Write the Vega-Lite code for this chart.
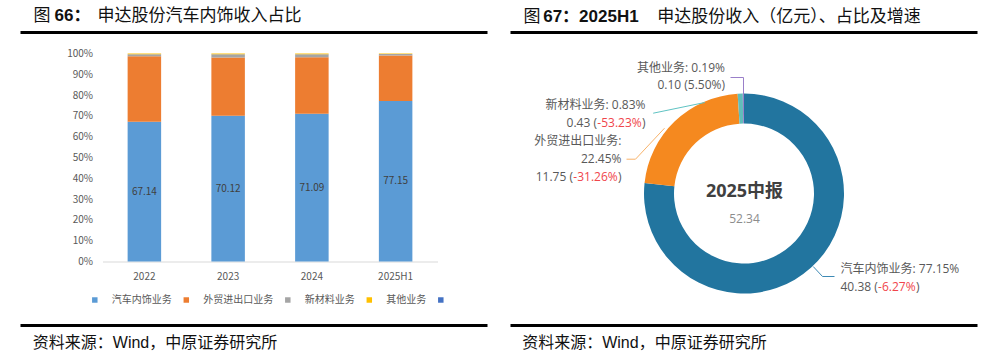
{
  "$schema": "https://vega.github.io/schema/vega-lite/v6.json",
  "background": "white",
  "padding": {"left": 18.5, "top": 6.5, "right": 0, "bottom": 0},
  "spacing": 19,
  "config": {"view": {"stroke": null}},
  "resolve": {"scale": {"color": "independent"}, "legend": {"color": "independent"}},
  "hconcat": [
    {
      "width": 335,
      "height": 208,
      "resolve": {"scale": {"x": "independent", "y": "independent"}},
      "layer": [
        {
          "data": {"values": [
            {"year": "2022", "biz": "汽车内饰业务", "share": 67.14},
            {"year": "2022", "biz": "外贸进出口业务", "share": 31.5},
            {"year": "2022", "biz": "新材料业务", "share": 1.0},
            {"year": "2022", "biz": "其他业务", "share": 0.36},
            {"year": "2023", "biz": "汽车内饰业务", "share": 70.12},
            {"year": "2023", "biz": "外贸进出口业务", "share": 28.0},
            {"year": "2023", "biz": "新材料业务", "share": 1.5},
            {"year": "2023", "biz": "其他业务", "share": 0.38},
            {"year": "2024", "biz": "汽车内饰业务", "share": 71.09},
            {"year": "2024", "biz": "外贸进出口业务", "share": 27.1},
            {"year": "2024", "biz": "新材料业务", "share": 1.4},
            {"year": "2024", "biz": "其他业务", "share": 0.41},
            {"year": "2025H1", "biz": "汽车内饰业务", "share": 77.15},
            {"year": "2025H1", "biz": "外贸进出口业务", "share": 21.83},
            {"year": "2025H1", "biz": "新材料业务", "share": 0.83},
            {"year": "2025H1", "biz": "其他业务", "share": 0.19}
          ]},
          "transform": [
            {"calculate": "indexof(['汽车内饰业务','外贸进出口业务','新材料业务','其他业务'], datum.biz)", "as": "k"}
          ],
          "layer": [
            {
              "mark": {"type": "bar"},
              "encoding": {
                "x": {"field": "year", "type": "nominal", "sort": null,
                  "scale": {"paddingInner": 0.6, "paddingOuter": 0.3},
                  "axis": {"title": null, "labelAngle": 0, "domainColor": "#D9D9D9", "domainWidth": 1, "ticks": false, "tickSize": 0, "labelPadding": 10, "labelFont": "Noto Sans CJK SC", "labelFontSize": 10, "labelColor": "#595959"}},
                "y": {"field": "share", "type": "quantitative", "stack": "zero",
                  "scale": {"domain": [0, 100], "nice": false, "zero": false},
                  "axis": {"title": null, "values": [0, 10, 20, 30, 40, 50, 60, 70, 80, 90, 100], "tickCount": 11, "labelExpr": "datum.value + '%'", "labelOverlap": false, "labelFlush": false, "domain": false, "ticks": false, "tickSize": 0, "grid": false, "labelPadding": 10, "labelFont": "Noto Sans CJK SC", "labelFontSize": 10, "labelColor": "#595959"}},
                "color": {"field": "biz", "type": "nominal",
                  "scale": {"domain": ["汽车内饰业务", "外贸进出口业务", "新材料业务", "其他业务", " "], "range": ["#5B9BD5", "#ED7D31", "#A5A5A5", "#FFC000", "#4472C4"]},
                  "legend": {"orient": "none", "legendX": -12.7, "legendY": 241.5, "direction": "horizontal", "columns": 5, "title": null, "symbolType": "square", "symbolSize": 30, "symbolStrokeWidth": 0, "labelFont": "Noto Sans CJK SC", "labelFontSize": 10, "labelColor": "#595959", "labelOffset": 12, "columnPadding": 9.5, "padding": 0}},
                "order": {"field": "k", "type": "quantitative", "sort": "ascending"}
              }
            },
            {
              "transform": [
                {"filter": "datum.biz == '汽车内饰业务'"},
                {"calculate": "datum.share / 2", "as": "mid"}
              ],
              "mark": {"type": "text", "font": "Noto Sans CJK SC", "fontSize": 10, "color": "#404040", "baseline": "middle"},
              "encoding": {
                "x": {"field": "year", "type": "nominal", "sort": null,
                  "axis": {"title": null, "labelAngle": 0, "domainColor": "#D9D9D9", "domainWidth": 1, "ticks": false, "tickSize": 0, "labelPadding": 10, "labelFont": "Noto Sans CJK SC", "labelFontSize": 10, "labelColor": "#595959"}},
                "y": {"field": "mid", "type": "quantitative", "scale": {"domain": [0, 100], "nice": false, "zero": false},
                  "axis": {"title": null, "values": [0, 10, 20, 30, 40, 50, 60, 70, 80, 90, 100], "tickCount": 11, "labelExpr": "datum.value + '%'", "labelOverlap": false, "labelFlush": false, "domain": false, "ticks": false, "tickSize": 0, "grid": false, "labelPadding": 10, "labelFont": "Noto Sans CJK SC", "labelFontSize": 10, "labelColor": "#595959"}},
                "text": {"field": "share", "type": "quantitative", "format": ".2f"}
              }
            }
          ]
        },
        {
          "data": {"values": [{}]},
          "mark": {"type": "rule", "color": "#000000", "strokeWidth": 3},
          "encoding": {
            "x": {"datum": -0.24478, "type": "quantitative", "scale": {"domain": [0, 1], "nice": false, "zero": false}, "axis": null},
            "x2": {"datum": 1.14925},
            "y": {"datum": 110.1, "type": "quantitative", "scale": {"domain": [0, 100], "nice": false, "zero": false}, "axis": null}
          }
        },
        {
          "data": {"values": [{}]},
          "mark": {"type": "rule", "color": "#000000", "strokeWidth": 3},
          "encoding": {
            "x": {"datum": -0.24478, "type": "quantitative", "scale": {"domain": [0, 1], "nice": false, "zero": false}, "axis": null},
            "x2": {"datum": 1.14925},
            "y": {"datum": -30.77, "type": "quantitative", "scale": {"domain": [0, 100], "nice": false, "zero": false}, "axis": null}
          }
        },
        {
          "data": {"values": [{}]},
          "mark": {"type": "text", "align": "left", "baseline": "middle", "font": "Noto Sans CJK SC", "fontSize": 17, "color": "#111111"},
          "encoding": {
            "x": {"datum": -0.20597, "type": "quantitative", "scale": {"domain": [0, 1], "nice": false, "zero": false}, "axis": null},
            "y": {"datum": 117.79, "type": "quantitative", "scale": {"domain": [0, 100], "nice": false, "zero": false}, "axis": null},
            "text": {"value": "图"}
          }
        },
        {
          "data": {"values": [{}]},
          "mark": {"type": "text", "align": "left", "baseline": "middle", "font": "Liberation Sans, Noto Sans CJK SC", "fontWeight": "bold", "fontSize": 17, "color": "#111111"},
          "encoding": {
            "x": {"datum": -0.14328, "type": "quantitative", "scale": {"domain": [0, 1], "nice": false, "zero": false}, "axis": null},
            "y": {"datum": 117.79, "type": "quantitative", "scale": {"domain": [0, 100], "nice": false, "zero": false}, "axis": null},
            "text": {"value": "66："}
          }
        },
        {
          "data": {"values": [{}]},
          "mark": {"type": "text", "align": "left", "baseline": "middle", "font": "Noto Sans CJK SC", "fontSize": 17, "color": "#111111"},
          "encoding": {
            "x": {"datum": -0.01493, "type": "quantitative", "scale": {"domain": [0, 1], "nice": false, "zero": false}, "axis": null},
            "y": {"datum": 117.79, "type": "quantitative", "scale": {"domain": [0, 100], "nice": false, "zero": false}, "axis": null},
            "text": {"value": "申达股份汽车内饰收入占比"}
          }
        },
        {
          "data": {"values": [{}]},
          "mark": {"type": "text", "align": "left", "baseline": "middle", "font": "Liberation Sans, Noto Sans CJK SC", "fontSize": 16, "color": "#111111"},
          "encoding": {
            "x": {"datum": -0.20806, "type": "quantitative", "scale": {"domain": [0, 1], "nice": false, "zero": false}, "axis": null},
            "y": {"datum": -39.18, "type": "quantitative", "scale": {"domain": [0, 100], "nice": false, "zero": false}, "axis": null},
            "text": {"value": "资料来源：Wind，中原证券研究所"}
          }
        }
      ]
    },
    {
      "width": 467,
      "height": 272,
      "data": {"values": [
        {"biz": "汽车内饰业务", "share": 77.15, "rev": 40.38, "growth": -6.27},
        {"biz": "外贸进出口业务", "share": 22.45, "rev": 11.75, "growth": -31.26},
        {"biz": "新材料业务", "share": 0.83, "rev": 0.43, "growth": -53.23},
        {"biz": "其他业务", "share": 0.19, "rev": 0.10, "growth": 5.50}
      ]},
      "transform": [
        {"calculate": "indexof(['汽车内饰业务','外贸进出口业务','新材料业务','其他业务'], datum.biz)", "as": "k"},
        {"calculate": "format(datum.share, '.2f') + '%'", "as": "pct"},
        {"calculate": "datum.biz + ': ' + datum.pct", "as": "l1"},
        {"calculate": "datum.biz + ':'", "as": "name"},
        {"calculate": "(datum.growth < 0 ? '-' : '') + format(abs(datum.growth), '.2f') + '%'", "as": "g"},
        {"calculate": "format(datum.rev, '.2f') + ' ('", "as": "pre"},
        {"calculate": "format(datum.rev, '.2f') + ' (' + datum.g + ')'", "as": "l2"}
      ],
      "layer": [
        {
          "mark": {"type": "arc", "outerRadius": 100, "innerRadius": 70},
          "encoding": {
            "x": {"datum": 0, "type": "quantitative", "scale": {"domain": [-2.335, 2.335], "nice": false, "zero": false}, "axis": null},
            "y": {"datum": 0, "type": "quantitative", "scale": {"domain": [-1.32, 1.4], "nice": false, "zero": false}, "axis": null},
            "theta": {"field": "share", "type": "quantitative", "stack": true},
            "color": {"field": "biz", "type": "nominal", "scale": {"domain": ["汽车内饰业务", "外贸进出口业务", "新材料业务", "其他业务"], "range": ["#22759F", "#F5891F", "#62BDBA", "#9A7FC9"]}, "legend": null},
            "order": {"field": "k", "type": "quantitative", "sort": "ascending"}
          }
        },
        {
          "data": {"values": [{}]},
          "mark": {"type": "rule", "color": "#000000", "strokeWidth": 3},
          "encoding": {"y": {"datum": 1.61, "type": "quantitative", "scale": {"domain": [-1.32, 1.4], "nice": false, "zero": false}, "axis": null}}
        },
        {
          "data": {"values": [{}]},
          "mark": {"type": "rule", "color": "#000000", "strokeWidth": 3},
          "encoding": {"y": {"datum": -1.32, "type": "quantitative", "scale": {"domain": [-1.32, 1.4], "nice": false, "zero": false}, "axis": null}}
        },
        {
          "data": {"values": [{}]},
          "mark": {"type": "rule", "color": "#9A7FC9", "strokeWidth": 1},
          "encoding": {
            "x": {"datum": -0.135, "type": "quantitative", "scale": {"domain": [-2.335, 2.335], "nice": false, "zero": false}, "axis": null},
            "x2": {"datum": -0.005},
            "y": {"datum": 1.16, "type": "quantitative", "scale": {"domain": [-1.32, 1.4], "nice": false, "zero": false}, "axis": null},
            "y2": {"datum": 1.16}
          }
        },
        {
          "data": {"values": [{}]},
          "mark": {"type": "rule", "color": "#9A7FC9", "strokeWidth": 1},
          "encoding": {
            "x": {"datum": -0.005, "type": "quantitative", "scale": {"domain": [-2.335, 2.335], "nice": false, "zero": false}, "axis": null},
            "x2": {"datum": -0.005},
            "y": {"datum": 1.16, "type": "quantitative", "scale": {"domain": [-1.32, 1.4], "nice": false, "zero": false}, "axis": null},
            "y2": {"datum": 0.79}
          }
        },
        {
          "data": {"values": [{}]},
          "mark": {"type": "rule", "color": "#5FC3C3", "strokeWidth": 1},
          "encoding": {
            "x": {"datum": -0.908, "type": "quantitative", "scale": {"domain": [-2.335, 2.335], "nice": false, "zero": false}, "axis": null},
            "x2": {"datum": -0.392},
            "y": {"datum": 0.803, "type": "quantitative", "scale": {"domain": [-1.32, 1.4], "nice": false, "zero": false}, "axis": null},
            "y2": {"datum": 0.91}
          }
        },
        {
          "data": {"values": [{}]},
          "mark": {"type": "rule", "color": "#F8B36B", "strokeWidth": 1},
          "encoding": {
            "x": {"datum": -1.175, "type": "quantitative", "scale": {"domain": [-2.335, 2.335], "nice": false, "zero": false}, "axis": null},
            "x2": {"datum": -1.085},
            "y": {"datum": 0.343, "type": "quantitative", "scale": {"domain": [-1.32, 1.4], "nice": false, "zero": false}, "axis": null},
            "y2": {"datum": 0.343}
          }
        },
        {
          "data": {"values": [{}]},
          "mark": {"type": "rule", "color": "#F8B36B", "strokeWidth": 1},
          "encoding": {
            "x": {"datum": -1.085, "type": "quantitative", "scale": {"domain": [-2.335, 2.335], "nice": false, "zero": false}, "axis": null},
            "x2": {"datum": -0.795},
            "y": {"datum": 0.343, "type": "quantitative", "scale": {"domain": [-1.32, 1.4], "nice": false, "zero": false}, "axis": null},
            "y2": {"datum": 0.653}
          }
        },
        {
          "data": {"values": [{}]},
          "mark": {"type": "rule", "color": "#3E8AB5", "strokeWidth": 1},
          "encoding": {
            "x": {"datum": 0.905, "type": "quantitative", "scale": {"domain": [-2.335, 2.335], "nice": false, "zero": false}, "axis": null},
            "x2": {"datum": 0.785},
            "y": {"datum": -0.83, "type": "quantitative", "scale": {"domain": [-1.32, 1.4], "nice": false, "zero": false}, "axis": null},
            "y2": {"datum": -0.83}
          }
        },
        {
          "data": {"values": [{}]},
          "mark": {"type": "rule", "color": "#3E8AB5", "strokeWidth": 1},
          "encoding": {
            "x": {"datum": 0.785, "type": "quantitative", "scale": {"domain": [-2.335, 2.335], "nice": false, "zero": false}, "axis": null},
            "x2": {"datum": 0.692},
            "y": {"datum": -0.83, "type": "quantitative", "scale": {"domain": [-1.32, 1.4], "nice": false, "zero": false}, "axis": null},
            "y2": {"datum": -0.73}
          }
        },
        {
          "transform": [{"filter": "datum.biz == '其他业务'"}],
          "mark": {"type": "text", "align": "right", "baseline": "middle", "font": "Open Sans, Noto Sans CJK SC", "fontSize": 12, "color": "#595959"},
          "encoding": {
            "x": {"datum": -0.19, "type": "quantitative", "scale": {"domain": [-2.335, 2.335], "nice": false, "zero": false}, "axis": null},
            "y": {"datum": 1.253, "type": "quantitative", "scale": {"domain": [-1.32, 1.4], "nice": false, "zero": false}, "axis": null},
            "text": {"field": "l1", "type": "nominal"}
          }
        },
        {
          "transform": [{"filter": "datum.biz == '其他业务'"}],
          "mark": {"type": "text", "align": "right", "baseline": "middle", "font": "Open Sans, Noto Sans CJK SC", "fontSize": 12, "color": "#595959"},
          "encoding": {
            "x": {"datum": -0.19, "type": "quantitative", "scale": {"domain": [-2.335, 2.335], "nice": false, "zero": false}, "axis": null},
            "y": {"datum": 1.087, "type": "quantitative", "scale": {"domain": [-1.32, 1.4], "nice": false, "zero": false}, "axis": null},
            "text": {"field": "l2", "type": "nominal"}
          }
        },
        {
          "transform": [{"filter": "datum.biz == '新材料业务'"}],
          "mark": {"type": "text", "align": "right", "baseline": "middle", "font": "Open Sans, Noto Sans CJK SC", "fontSize": 12, "color": "#595959"},
          "encoding": {
            "x": {"datum": -0.985, "type": "quantitative", "scale": {"domain": [-2.335, 2.335], "nice": false, "zero": false}, "axis": null},
            "y": {"datum": 0.887, "type": "quantitative", "scale": {"domain": [-1.32, 1.4], "nice": false, "zero": false}, "axis": null},
            "text": {"field": "l1", "type": "nominal"}
          }
        },
        {
          "transform": [{"filter": "datum.biz == '新材料业务'"}],
          "mark": {"type": "text", "align": "right", "baseline": "middle", "dx": -48.5, "font": "Open Sans, Noto Sans CJK SC", "fontSize": 12, "color": "#595959"},
          "encoding": {
            "x": {"datum": -0.985, "type": "quantitative", "scale": {"domain": [-2.335, 2.335], "nice": false, "zero": false}, "axis": null},
            "y": {"datum": 0.71, "type": "quantitative", "scale": {"domain": [-1.32, 1.4], "nice": false, "zero": false}, "axis": null},
            "text": {"field": "pre", "type": "nominal"}
          }
        },
        {
          "transform": [{"filter": "datum.biz == '新材料业务'"}],
          "mark": {"type": "text", "align": "right", "baseline": "middle", "dx": -3.8, "font": "Open Sans, Noto Sans CJK SC", "fontSize": 12, "color": "#F0454B"},
          "encoding": {
            "x": {"datum": -0.985, "type": "quantitative", "scale": {"domain": [-2.335, 2.335], "nice": false, "zero": false}, "axis": null},
            "y": {"datum": 0.71, "type": "quantitative", "scale": {"domain": [-1.32, 1.4], "nice": false, "zero": false}, "axis": null},
            "text": {"field": "g", "type": "nominal"}
          }
        },
        {
          "transform": [{"filter": "datum.biz == '新材料业务'"}],
          "mark": {"type": "text", "align": "right", "baseline": "middle", "font": "Open Sans, Noto Sans CJK SC", "fontSize": 12, "color": "#595959"},
          "encoding": {
            "x": {"datum": -0.985, "type": "quantitative", "scale": {"domain": [-2.335, 2.335], "nice": false, "zero": false}, "axis": null},
            "y": {"datum": 0.71, "type": "quantitative", "scale": {"domain": [-1.32, 1.4], "nice": false, "zero": false}, "axis": null},
            "text": {"value": ")"}
          }
        },
        {
          "transform": [{"filter": "datum.biz == '外贸进出口业务'"}],
          "mark": {"type": "text", "align": "right", "baseline": "middle", "font": "Open Sans, Noto Sans CJK SC", "fontSize": 12, "color": "#595959"},
          "encoding": {
            "x": {"datum": -1.225, "type": "quantitative", "scale": {"domain": [-2.335, 2.335], "nice": false, "zero": false}, "axis": null},
            "y": {"datum": 0.53, "type": "quantitative", "scale": {"domain": [-1.32, 1.4], "nice": false, "zero": false}, "axis": null},
            "text": {"field": "name", "type": "nominal"}
          }
        },
        {
          "transform": [{"filter": "datum.biz == '外贸进出口业务'"}],
          "mark": {"type": "text", "align": "right", "baseline": "middle", "font": "Open Sans, Noto Sans CJK SC", "fontSize": 12, "color": "#595959"},
          "encoding": {
            "x": {"datum": -1.225, "type": "quantitative", "scale": {"domain": [-2.335, 2.335], "nice": false, "zero": false}, "axis": null},
            "y": {"datum": 0.35, "type": "quantitative", "scale": {"domain": [-1.32, 1.4], "nice": false, "zero": false}, "axis": null},
            "text": {"field": "pct", "type": "nominal"}
          }
        },
        {
          "transform": [{"filter": "datum.biz == '外贸进出口业务'"}],
          "mark": {"type": "text", "align": "right", "baseline": "middle", "dx": -48.5, "font": "Open Sans, Noto Sans CJK SC", "fontSize": 12, "color": "#595959"},
          "encoding": {
            "x": {"datum": -1.225, "type": "quantitative", "scale": {"domain": [-2.335, 2.335], "nice": false, "zero": false}, "axis": null},
            "y": {"datum": 0.17, "type": "quantitative", "scale": {"domain": [-1.32, 1.4], "nice": false, "zero": false}, "axis": null},
            "text": {"field": "pre", "type": "nominal"}
          }
        },
        {
          "transform": [{"filter": "datum.biz == '外贸进出口业务'"}],
          "mark": {"type": "text", "align": "right", "baseline": "middle", "dx": -3.8, "font": "Open Sans, Noto Sans CJK SC", "fontSize": 12, "color": "#F0454B"},
          "encoding": {
            "x": {"datum": -1.225, "type": "quantitative", "scale": {"domain": [-2.335, 2.335], "nice": false, "zero": false}, "axis": null},
            "y": {"datum": 0.17, "type": "quantitative", "scale": {"domain": [-1.32, 1.4], "nice": false, "zero": false}, "axis": null},
            "text": {"field": "g", "type": "nominal"}
          }
        },
        {
          "transform": [{"filter": "datum.biz == '外贸进出口业务'"}],
          "mark": {"type": "text", "align": "right", "baseline": "middle", "font": "Open Sans, Noto Sans CJK SC", "fontSize": 12, "color": "#595959"},
          "encoding": {
            "x": {"datum": -1.225, "type": "quantitative", "scale": {"domain": [-2.335, 2.335], "nice": false, "zero": false}, "axis": null},
            "y": {"datum": 0.17, "type": "quantitative", "scale": {"domain": [-1.32, 1.4], "nice": false, "zero": false}, "axis": null},
            "text": {"value": ")"}
          }
        },
        {
          "transform": [{"filter": "datum.biz == '汽车内饰业务'"}],
          "mark": {"type": "text", "align": "left", "baseline": "middle", "font": "Open Sans, Noto Sans CJK SC", "fontSize": 12, "color": "#595959"},
          "encoding": {
            "x": {"datum": 0.965, "type": "quantitative", "scale": {"domain": [-2.335, 2.335], "nice": false, "zero": false}, "axis": null},
            "y": {"datum": -0.75, "type": "quantitative", "scale": {"domain": [-1.32, 1.4], "nice": false, "zero": false}, "axis": null},
            "text": {"field": "l1", "type": "nominal"}
          }
        },
        {
          "transform": [{"filter": "datum.biz == '汽车内饰业务'"}],
          "mark": {"type": "text", "align": "left", "baseline": "middle", "font": "Open Sans, Noto Sans CJK SC", "fontSize": 12, "color": "#595959"},
          "encoding": {
            "x": {"datum": 0.965, "type": "quantitative", "scale": {"domain": [-2.335, 2.335], "nice": false, "zero": false}, "axis": null},
            "y": {"datum": -0.93, "type": "quantitative", "scale": {"domain": [-1.32, 1.4], "nice": false, "zero": false}, "axis": null},
            "text": {"field": "pre", "type": "nominal"}
          }
        },
        {
          "transform": [{"filter": "datum.biz == '汽车内饰业务'"}],
          "mark": {"type": "text", "align": "left", "baseline": "middle", "dx": 37.6, "font": "Open Sans, Noto Sans CJK SC", "fontSize": 12, "color": "#F0454B"},
          "encoding": {
            "x": {"datum": 0.965, "type": "quantitative", "scale": {"domain": [-2.335, 2.335], "nice": false, "zero": false}, "axis": null},
            "y": {"datum": -0.93, "type": "quantitative", "scale": {"domain": [-1.32, 1.4], "nice": false, "zero": false}, "axis": null},
            "text": {"field": "g", "type": "nominal"}
          }
        },
        {
          "transform": [{"filter": "datum.biz == '汽车内饰业务'"}],
          "mark": {"type": "text", "align": "left", "baseline": "middle", "dx": 75.5, "font": "Open Sans, Noto Sans CJK SC", "fontSize": 12, "color": "#595959"},
          "encoding": {
            "x": {"datum": 0.965, "type": "quantitative", "scale": {"domain": [-2.335, 2.335], "nice": false, "zero": false}, "axis": null},
            "y": {"datum": -0.93, "type": "quantitative", "scale": {"domain": [-1.32, 1.4], "nice": false, "zero": false}, "axis": null},
            "text": {"value": ")"}
          }
        },
        {
          "data": {"values": [{}]},
          "mark": {"type": "text", "align": "center", "baseline": "middle", "font": "Open Sans, Noto Sans CJK SC", "fontWeight": "bold", "fontSize": 18, "color": "#404040"},
          "encoding": {
            "x": {"datum": 0.005, "type": "quantitative", "scale": {"domain": [-2.335, 2.335], "nice": false, "zero": false}, "axis": null},
            "y": {"datum": 0.02, "type": "quantitative", "scale": {"domain": [-1.32, 1.4], "nice": false, "zero": false}, "axis": null},
            "text": {"value": "2025中报"}
          }
        },
        {
          "data": {"values": [{}]},
          "mark": {"type": "text", "align": "center", "baseline": "middle", "font": "Open Sans, Noto Sans CJK SC", "fontSize": 12, "color": "#8C8C8C"},
          "encoding": {
            "x": {"datum": 0.005, "type": "quantitative", "scale": {"domain": [-2.335, 2.335], "nice": false, "zero": false}, "axis": null},
            "y": {"datum": -0.257, "type": "quantitative", "scale": {"domain": [-1.32, 1.4], "nice": false, "zero": false}, "axis": null},
            "text": {"value": "52.34"}
          }
        },
        {
          "data": {"values": [{}]},
          "mark": {"type": "text", "align": "left", "baseline": "middle", "font": "Noto Sans CJK SC", "fontSize": 17, "color": "#111111"},
          "encoding": {
            "x": {"datum": -2.205, "type": "quantitative", "scale": {"domain": [-2.335, 2.335], "nice": false, "zero": false}, "axis": null},
            "y": {"datum": 1.77, "type": "quantitative", "scale": {"domain": [-1.32, 1.4], "nice": false, "zero": false}, "axis": null},
            "text": {"value": "图"}
          }
        },
        {
          "data": {"values": [{}]},
          "mark": {"type": "text", "align": "left", "baseline": "middle", "font": "Liberation Sans, Noto Sans CJK SC", "fontWeight": "bold", "fontSize": 17, "color": "#111111"},
          "encoding": {
            "x": {"datum": -2.008, "type": "quantitative", "scale": {"domain": [-2.335, 2.335], "nice": false, "zero": false}, "axis": null},
            "y": {"datum": 1.77, "type": "quantitative", "scale": {"domain": [-1.32, 1.4], "nice": false, "zero": false}, "axis": null},
            "text": {"value": "67：2025H1"}
          }
        },
        {
          "data": {"values": [{}]},
          "mark": {"type": "text", "align": "left", "baseline": "middle", "font": "Noto Sans CJK SC", "fontSize": 17, "color": "#111111"},
          "encoding": {
            "x": {"datum": -0.868, "type": "quantitative", "scale": {"domain": [-2.335, 2.335], "nice": false, "zero": false}, "axis": null},
            "y": {"datum": 1.77, "type": "quantitative", "scale": {"domain": [-1.32, 1.4], "nice": false, "zero": false}, "axis": null},
            "text": {"value": "申达股份收入（亿元）、占比及增速"}
          }
        },
        {
          "data": {"values": [{}]},
          "mark": {"type": "text", "align": "left", "baseline": "middle", "font": "Liberation Sans, Noto Sans CJK SC", "fontSize": 16, "color": "#111111"},
          "encoding": {
            "x": {"datum": -2.218, "type": "quantitative", "scale": {"domain": [-2.335, 2.335], "nice": false, "zero": false}, "axis": null},
            "y": {"datum": -1.495, "type": "quantitative", "scale": {"domain": [-1.32, 1.4], "nice": false, "zero": false}, "axis": null},
            "text": {"value": "资料来源：Wind，中原证券研究所"}
          }
        }
      ]
    }
  ]
}
